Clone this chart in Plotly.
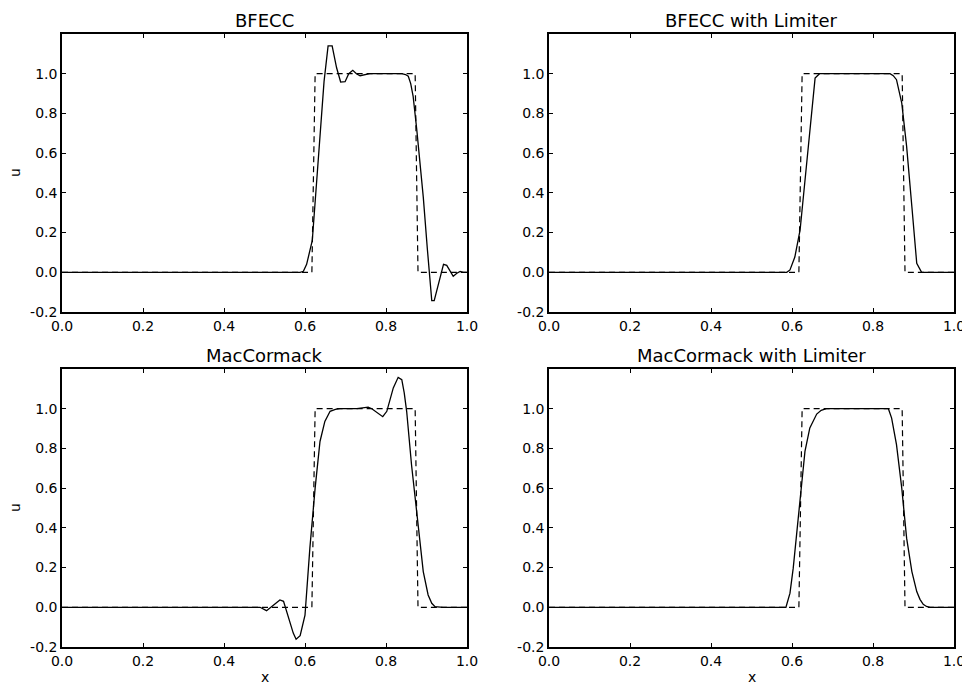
import plotly.graph_objects as go

# exact solution (dashed)
exact_x = [0.0, 0.617, 0.625, 0.872, 0.879, 1.0]
exact_u = [0.0, 0.0, 1.0, 1.0, 0.0, 0.0]

bfecc_x = [0.0, 0.588, 0.596, 0.604, 0.618, 0.632, 0.647, 0.657, 0.667, 0.678, 0.688, 0.699, 0.708, 0.718,
           0.727, 0.736, 0.760, 0.800, 0.839, 0.848, 0.855, 0.861, 0.867, 0.876, 0.884, 0.892, 0.902,
           0.913, 0.919, 0.930, 0.942, 0.950, 0.958, 0.966, 0.975, 0.983, 0.991, 1.0]
bfecc_u = [0.0, 0.0, 0.005, 0.04, 0.16, 0.56, 0.96, 1.14, 1.14, 1.03, 0.958, 0.96, 1.0, 1.017,
           1.0, 0.99, 1.0, 1.0, 1.0, 0.996, 0.987, 0.95, 0.886, 0.718, 0.55, 0.38, 0.12,
           -0.143, -0.143, -0.05, 0.04, 0.035, 0.005, -0.02, -0.005, 0.004, 0.0, 0.0]

bfecc_lim_x = [0.0, 0.587, 0.595, 0.607, 0.620, 0.635, 0.649, 0.657, 0.668, 0.700, 0.800, 0.842, 0.850,
               0.858, 0.871, 0.883, 0.896, 0.908, 0.920, 1.0]
bfecc_lim_u = [0.0, 0.0, 0.012, 0.077, 0.213, 0.53, 0.835, 0.978, 1.0, 1.0, 1.0, 1.0, 0.99,
               0.97, 0.852, 0.634, 0.33, 0.045, 0.0, 0.0]

mac_x = [0.0, 0.470, 0.489, 0.505, 0.522, 0.538, 0.547, 0.555, 0.563, 0.571, 0.578, 0.588, 0.600,
         0.612, 0.625, 0.637, 0.649, 0.662, 0.675, 0.686, 0.728, 0.745, 0.756, 0.765, 0.773, 0.783,
         0.792, 0.802, 0.810, 0.818, 0.830, 0.839, 0.845, 0.851, 0.863, 0.872, 0.880, 0.892, 0.904,
         0.913, 0.921, 0.941, 1.0]
mac_u = [0.0, 0.0, 0.0, -0.017, 0.012, 0.037, 0.03, -0.02, -0.08, -0.13, -0.161, -0.143, -0.039,
         0.298, 0.6, 0.835, 0.936, 0.987, 0.997, 1.0, 1.0, 1.003, 1.008, 1.0, 0.987, 0.97,
         0.96, 0.987, 1.05, 1.105, 1.158, 1.146, 1.08, 0.987, 0.718, 0.55, 0.381, 0.18, 0.062,
         0.02, 0.003, 0.0, 0.0]

mac_lim_x = [0.0, 0.585, 0.595, 0.603, 0.612, 0.620, 0.632, 0.644, 0.661, 0.672, 0.685, 0.800, 0.838,
             0.846, 0.858, 0.871, 0.883, 0.896, 0.908, 0.916, 0.924, 0.932, 0.941, 1.0]
mac_lim_u = [0.0, 0.0, 0.071, 0.197, 0.38, 0.55, 0.785, 0.903, 0.973, 0.992, 1.0, 1.0, 1.0,
             0.953, 0.819, 0.6, 0.348, 0.18, 0.079, 0.04, 0.015, 0.004, 0.0, 0.0]

titles = ["BFECC", "BFECC with Limiter", "MacCormack", "MacCormack with Limiter"]
series_x = [bfecc_x, bfecc_lim_x, mac_x, mac_lim_x]
series_u = [bfecc_u, bfecc_lim_u, mac_u, mac_lim_u]

x_ticks = [0.0, 0.2, 0.4, 0.6, 0.8, 1.0]
x_ticktext = ["0.0", "0.2", "0.4", "0.6", "0.8", "1.0"]
y_ticks = [-0.2, 0.0, 0.2, 0.4, 0.6, 0.8, 1.0]
y_ticktext = ["-0.2", "0.0", "0.2", "0.4", "0.6", "0.8", "1.0"]

# page has an 8px body margin; size the figure so it fits the 970x684 window
OFF = 8
W, H = 970 - OFF, 684 - OFF
ML, MT = 62 - OFF, 34 - OFF
MR = W - (954 - OFF)
MB = H - (647 - OFF)
PW, PH = W - ML - MR, H - MT - MB
x_domains = [[0.0, 405 / PW], [487 / PW, 1.0]]
y_domains = [[1 - 278 / PH, 1.0], [0.0, 278 / PH]]

font_family = "DejaVu Sans, Liberation Sans, sans-serif"
fig = go.Figure()
layout = dict(
    template="none",
    width=W, height=H, margin=dict(l=ML, r=MR, t=MT, b=MB, pad=0, autoexpand=False),
    paper_bgcolor="white", plot_bgcolor="white", showlegend=False,
    font=dict(family=font_family, size=14, color="black"),
)
annotations = []
for i in range(4):
    row, col = divmod(i, 2)
    xa = "xaxis" if i == 0 else f"xaxis{i+1}"
    ya = "yaxis" if i == 0 else f"yaxis{i+1}"
    xref = "x" if i == 0 else f"x{i+1}"
    yref = "y" if i == 0 else f"y{i+1}"
    fig.add_trace(go.Scatter(x=exact_x, y=exact_u, mode="lines", xaxis=xref, yaxis=yref,
                             line=dict(color="black", width=1.2, dash="6px,4px")))
    fig.add_trace(go.Scatter(x=series_x[i], y=series_u[i], mode="lines", xaxis=xref, yaxis=yref,
                             line=dict(color="black", width=1.3)))
    common = dict(showline=True, linecolor="black", linewidth=1.5, mirror="allticks",
                  ticks="inside", ticklen=4, tickwidth=1, tickcolor="black", automargin=False,
                  showgrid=False, zeroline=False, tickfont=dict(size=14))
    layout[xa] = dict(domain=x_domains[col], range=[0, 1], anchor=yref,
                      tickvals=x_ticks, ticktext=x_ticktext, **common)
    layout[ya] = dict(domain=y_domains[row], range=[-0.2, 1.2], anchor=xref,
                      tickvals=y_ticks, ticktext=y_ticktext, **common)
    xc = (x_domains[col][0] + x_domains[col][1]) / 2
    annotations.append(dict(text=titles[i], x=xc, y=y_domains[row][1], xref="paper", yref="paper",
                            xanchor="center", yanchor="bottom", yshift=1, showarrow=False,
                            font=dict(size=18)))
    if col == 0:
        annotations.append(dict(text="u", x=(15 - OFF - ML) / PW,
                                y=(y_domains[row][0] + y_domains[row][1]) / 2,
                                xref="paper", yref="paper", textangle=-90, showarrow=False,
                                xanchor="center", yanchor="middle", font=dict(size=14)))
    if row == 1:
        annotations.append(dict(text="x", x=xc, y=(647 - 677) / PH, xref="paper", yref="paper",
                                showarrow=False, xanchor="center", yanchor="middle",
                                font=dict(size=14)))
layout["annotations"] = annotations
fig.update_layout(**layout)
fig.write_html("out.html")
